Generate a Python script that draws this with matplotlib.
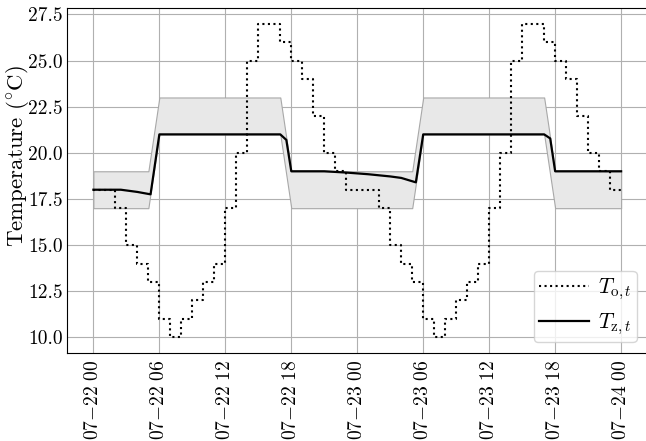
import numpy as np
import pandas as pd
import matplotlib
matplotlib.use("Agg")
import matplotlib.pyplot as plt
import matplotlib.dates as mdates
from matplotlib.ticker import FuncFormatter

plt.rcParams['font.family'] = 'serif'
plt.rcParams['font.serif'] = ['cmr10']
plt.rcParams['mathtext.fontset'] = 'cm'
plt.rcParams['axes.formatter.use_mathtext'] = True
plt.rcParams['axes.unicode_minus'] = False

start = pd.Timestamp('2023-07-22 00:00')

# outdoor temperature, hourly (step-post), 07-22 00 .. 07-24 00
t_out = [18, 18, 17, 15, 14, 13, 11, 10, 11, 12, 13, 14,
         17, 20, 25, 27, 27, 26, 25, 24, 22, 20, 19, 18,
         18, 18, 17, 15, 14, 13, 11, 10, 11, 12, 13, 14,
         17, 20, 25, 27, 27, 26, 25, 24, 22, 20, 19, 18,
         18]

# comfort band (lower bound, upper = lower + 2), hourly
band_low = [17] * 6 + [21] * 12 + [17] * 12 + [21] * 12 + [17] * 7
band_high = [v + 2 for v in band_low]

# zone temperature at solver time points (hours since start)
tz_hours = [0, 2.5, 3, 4, 5.2, 6, 17, 17.55, 18, 21, 23, 25, 27, 28,
            29.33, 30, 41, 41.55, 42, 48]
tz_vals = [18.0, 18.0, 17.96, 17.88, 17.75, 21.0, 21.0, 20.7, 19.0, 19.0,
           18.93, 18.84, 18.72, 18.64, 18.4, 21.0, 21.0, 20.78, 19.0, 19.0]

t_hourly = start + pd.to_timedelta(np.arange(len(t_out)), unit='h')
t_tz = start + pd.to_timedelta(np.array(tz_hours), unit='h')

fig = plt.figure(figsize=(6.46, 4.41), dpi=100)
ax = fig.add_axes([67 / 646, 88 / 441, 580.5 / 646, 345 / 441])

ax.fill_between(t_hourly, band_low, band_high, facecolor='#e8e8e8',
                edgecolor='#a8a8a8', linewidth=0.8, zorder=1)
ax.plot(t_hourly, t_out, ':', color='black', lw=1.5, drawstyle='steps-post',
        label=r'$T_{\mathrm{o},t}$', zorder=3)
ax.plot(t_tz, tz_vals, '-', color='black', lw=1.6,
        label=r'$T_{\mathrm{z},t}$', zorder=4)

ax.grid(True, color='#b0b0b0', lw=0.8)
ax.set_axisbelow(True)

ax.xaxis.set_major_locator(mdates.HourLocator(byhour=[0, 6, 12, 18]))


def fmt_date(x, pos):
    d = mdates.num2date(x)
    return r'$\mathdefault{%02d{-}%02d\ %02d}$' % (d.month, d.day, d.hour)


ax.xaxis.set_major_formatter(FuncFormatter(fmt_date))
ax.set_yticks([10, 12.5, 15, 17.5, 20, 22.5, 25, 27.5])
ax.yaxis.set_major_formatter(FuncFormatter(lambda v, p: '%.1f' % v))
ax.tick_params(axis='x', labelrotation=90, direction='in', labelsize=14, length=0, pad=5)
ax.tick_params(axis='y', direction='in', labelsize=14, length=0, pad=3)

ax.set_ylabel(r'Temperature ($^{\circ}$C)', fontsize=16.5)
ax.yaxis.set_label_coords(-0.062, 0.57)

ax.legend(loc='lower right', fontsize=15.5, handlelength=2.3, handletextpad=0.4,
          framealpha=0.8, borderpad=0.25, labelspacing=0.45, borderaxespad=0.5)

fig.savefig('out.png', dpi=100)
